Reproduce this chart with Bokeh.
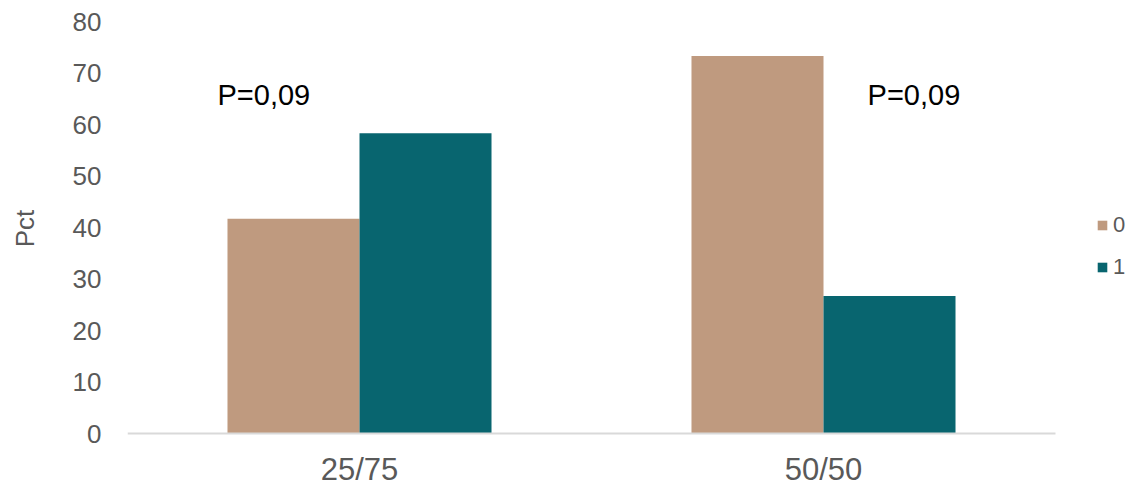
from bokeh.plotting import figure
from bokeh.models import ColumnDataSource, Legend, LegendItem, Label, FixedTicker, Range1d
from bokeh.transform import dodge
from bokeh.embed import file_html
from bokeh.resources import INLINE

categories = ["25/75", "50/50"]
series0 = [41.7, 73.3]
series1 = [58.3, 26.7]
series_names = ["0", "1"]
colors = ["#BF9A7F", "#08656F"]
pvals = ["P=0,09", "P=0,09"]
y_ticks = [0, 10, 20, 30, 40, 50, 60, 70, 80]

FONT = "Liberation Sans"
GREY = "#595959"

xpos = [i + 0.5 for i in range(len(categories))]
src = ColumnDataSource(dict(x=xpos, s0=series0, s1=series1))

CAT_PX = 464.0
FRAME_W = 1001
p = figure(x_range=Range1d(0, FRAME_W / CAT_PX), y_range=Range1d(-2 / 5.15, 80),
           frame_width=FRAME_W, frame_height=414,
           output_backend="svg", toolbar_location=None,
           min_border_left=127, min_border_right=0, min_border_top=21,
           min_border_bottom=50)

bw = 0.2845
r0 = p.vbar(x=dodge("x", -bw / 2), top="s0", bottom=0, width=bw,
            source=src, fill_color=colors[0], line_color=None)
r1 = p.vbar(x=dodge("x", bw / 2), top="s1", bottom=0, width=bw,
            source=src, fill_color=colors[1], line_color=None)

# category axis baseline
p.segment(x0=0, y0=0, x1=len(categories), y1=0, line_color="#D9D9D9", line_width=2)

p.outline_line_color = None
p.xgrid.grid_line_color = None
p.ygrid.grid_line_color = None

p.yaxis.ticker = FixedTicker(ticks=y_ticks)
p.yaxis.axis_line_color = None
p.yaxis.major_tick_line_color = None
p.yaxis.minor_tick_line_color = None
p.yaxis.major_label_text_font = FONT
p.yaxis.major_label_text_font_size = "26px"
p.yaxis.major_label_text_color = GREY
p.yaxis.major_label_standoff = 20
p.yaxis.axis_label = "Pct"
p.yaxis.axis_label_text_font = FONT
p.yaxis.axis_label_text_font_size = "26px"
p.yaxis.axis_label_text_font_style = "normal"
p.yaxis.axis_label_text_color = GREY
p.yaxis.axis_label_standoff = 30

p.xaxis.ticker = FixedTicker(ticks=xpos)
p.xaxis.major_label_overrides = {x: c for x, c in zip(xpos, categories)}
p.xaxis.axis_line_color = None
p.xaxis.major_tick_line_color = None
p.xaxis.minor_tick_line_color = None
p.xaxis.major_label_text_font = FONT
p.xaxis.major_label_text_font_size = "31px"
p.xaxis.major_label_text_color = GREY
p.xaxis.major_label_standoff = 10

for xp, txt in zip([0.194, 1.595], pvals):
    p.add_layout(Label(x=xp, y=65.8, text=txt, text_font=FONT,
                       text_font_size="29px", text_color="black",
                       text_baseline="alphabetic", text_align="left"))

legend = Legend(items=[LegendItem(label=series_names[0], renderers=[r0]),
                       LegendItem(label=series_names[1], renderers=[r1])],
                location=(969, 155), orientation="vertical",
                glyph_width=12, glyph_height=12, label_standoff=5,
                label_text_font=FONT, label_text_font_size="22px",
                label_text_color=GREY, spacing=16, padding=0, margin=0,
                border_line_color=None, background_fill_alpha=0,
                label_height=24)
p.add_layout(legend, "center")

open("out.html", "w").write(file_html(p, INLINE))
